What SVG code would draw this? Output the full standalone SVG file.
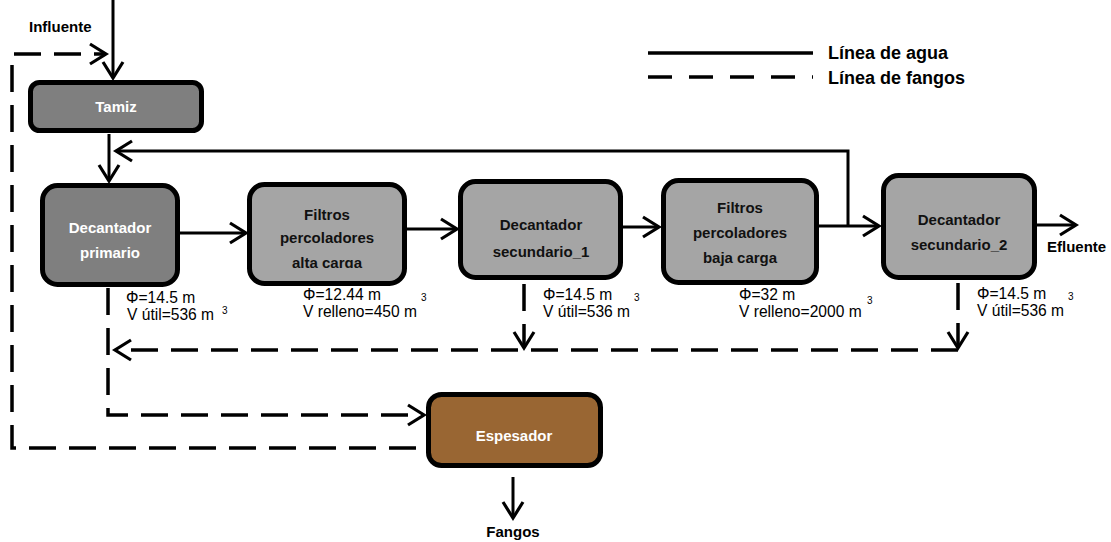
<svg xmlns="http://www.w3.org/2000/svg" width="1111" height="542" viewBox="0 0 1111 542">
  <style>
    .box { stroke: #000; stroke-width: 5; }
    .dark { fill: #7f7f7f; }
    .light { fill: #a5a5a5; }
    .brown { fill: #996633; }
    .t { font-family: "Liberation Sans", Arial, sans-serif; font-weight: bold; font-size: 15px; text-anchor: middle; }
    .tw { fill: #ffffff; }
    .tb { fill: #111111; }
    .lbl { font-family: "Liberation Sans", Arial, sans-serif; font-size: 15.6px; fill: #000; }
    .sup { font-family: "Liberation Sans", Arial, sans-serif; font-size: 10px; fill: #000; }
    .head { font-family: "Liberation Sans", Arial, sans-serif; font-weight: bold; font-size: 15px; fill: #000; }
    .leg { font-family: "Liberation Sans", Arial, sans-serif; font-weight: bold; font-size: 18px; fill: #000; }
    .solid { fill: none; stroke: #000; stroke-width: 3; }
    .dash { fill: none; stroke: #000; stroke-width: 3.5; stroke-dasharray: 27 13; }
  </style>
  <defs>
    <marker id="chev" markerUnits="userSpaceOnUse" viewBox="-20 -13 24 26" markerWidth="24" markerHeight="26" refX="0" refY="0" orient="auto" overflow="visible">
      <path d="M -16 -10 L 0 0 L -16 10" fill="none" stroke="#000" stroke-width="3.2" stroke-dasharray="none"/>
    </marker>
    <clipPath id="clipAlta">
      <rect x="250" y="185" width="155" height="83"/>
    </clipPath>
  </defs>

  <rect width="1111" height="542" fill="#ffffff"/>

  <!-- legend -->
  <g id="legend">
    <line x1="648" y1="53" x2="813" y2="53" stroke="#000" stroke-width="3.5"/>
    <line x1="648" y1="77" x2="813" y2="77" stroke="#000" stroke-width="3.5" stroke-dasharray="24 17"/>
    <text class="leg" x="828" y="59">Línea de agua</text>
    <text class="leg" x="828" y="84">Línea de fangos</text>
  </g>

  <!-- connectors -->
  <g id="connectors">
    <path class="solid" d="M 113 0 V 78" marker-end="url(#chev)"/>
    <path class="solid" d="M 109 134 V 181" marker-end="url(#chev)"/>
    <path class="solid" d="M 848 226 V 151 H 116" marker-end="url(#chev)"/>
    <path class="solid" d="M 180 233 H 246" marker-end="url(#chev)"/>
    <path class="solid" d="M 407 229 H 457" marker-end="url(#chev)"/>
    <path class="solid" d="M 623 227 H 659" marker-end="url(#chev)"/>
    <path class="solid" d="M 819 226 H 879" marker-end="url(#chev)"/>
    <path class="solid" d="M 1037 225 H 1076" marker-end="url(#chev)"/>
    <path class="solid" d="M 513 477 V 518" marker-end="url(#chev)"/>

    <path class="dash" d="M 416 448 H 12 V 54 H 106" marker-end="url(#chev)"/>
    <path class="dash" d="M 108 288 V 415 H 424" marker-end="url(#chev)"/>
    <path class="dash" d="M 524 284 V 348" marker-end="url(#chev)"/>
    <path class="dash" d="M 958 283 V 348" marker-end="url(#chev)"/>
    <path class="dash" d="M 958 350 H 115" marker-end="url(#chev)"/>
  </g>

  <!-- flow labels -->
  <text class="head" x="29" y="32">Influente</text>
  <text class="head" x="1047" y="252">Efluente</text>
  <text class="head" x="513" y="537" text-anchor="middle">Fangos</text>

  <!-- process units -->
  <g id="tamiz">
    <rect class="box dark" x="30.5" y="82.5" width="171" height="48" rx="9"/>
    <text class="t tw" x="116" y="112">Tamiz</text>
  </g>

  <g id="decantador-primario">
    <rect class="box dark" x="42.5" y="185.5" width="135" height="99" rx="15"/>
    <text class="t tw" x="110" y="233">Decantador</text>
    <text class="t tw" x="110" y="258">primario</text>
    <text class="lbl" x="126" y="303">Φ=14.5 m</text>
    <text class="lbl" x="127" y="320">V útil=536 m</text>
    <text class="sup" x="222" y="314">3</text>
  </g>

  <g id="filtros-alta-carga">
    <rect class="box light" x="249.5" y="184.5" width="155" height="99" rx="15"/>
    <text class="t tb" x="327" y="220">Filtros</text>
    <text class="t tb" x="327" y="243">percoladores</text>
    <text class="t tb" x="327" y="268" clip-path="url(#clipAlta)">alta carga</text>
    <text class="lbl" x="303" y="300">Φ=12.44 m</text>
    <text class="lbl" x="303" y="317">V relleno=450 m</text>
    <text class="sup" x="421" y="301">3</text>
  </g>

  <g id="decantador-secundario-1">
    <rect class="box light" x="460.5" y="181.5" width="160" height="96" rx="15"/>
    <text class="t tb" x="541" y="230">Decantador</text>
    <text class="t tb" x="541" y="257">secundario_1</text>
    <text class="lbl" x="543" y="300">Φ=14.5 m</text>
    <text class="lbl" x="543" y="317">V útil=536 m</text>
    <text class="sup" x="634" y="301">3</text>
  </g>

  <g id="filtros-baja-carga">
    <rect class="box light" x="663.5" y="180.5" width="153" height="102" rx="15"/>
    <text class="t tb" x="740" y="213">Filtros</text>
    <text class="t tb" x="740" y="238">percoladores</text>
    <text class="t tb" x="740" y="263">baja carga</text>
    <text class="lbl" x="739" y="300">Φ=32 m</text>
    <text class="lbl" x="739" y="317">V relleno=2000 m</text>
    <text class="sup" x="867" y="304">3</text>
  </g>

  <g id="decantador-secundario-2">
    <rect class="box light" x="883.5" y="175.5" width="151" height="102" rx="15"/>
    <text class="t tb" x="959" y="225">Decantador</text>
    <text class="t tb" x="959" y="250">secundario_2</text>
    <text class="lbl" x="977" y="299">Φ=14.5 m</text>
    <text class="lbl" x="977" y="316">V útil=536 m</text>
    <text class="sup" x="1068" y="300">3</text>
  </g>

  <g id="espesador">
    <rect class="box brown" x="428.5" y="394.5" width="172" height="71" rx="13"/>
    <text class="t tw" x="514" y="441">Espesador</text>
  </g>
</svg>
